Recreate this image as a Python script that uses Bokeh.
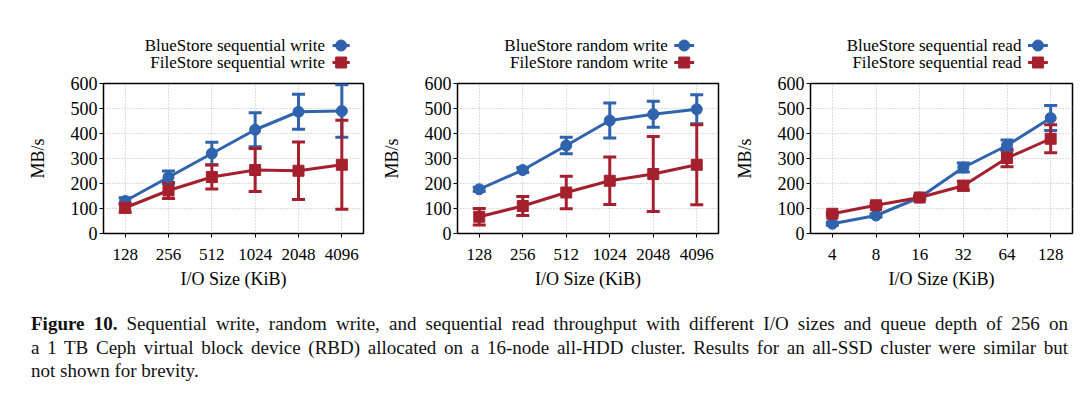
from bokeh.plotting import figure
from bokeh.models import (Whisker, TeeHead, ColumnDataSource, Div, FactorRange,
                          Range1d, FixedTicker)
from bokeh.core.properties import value
from bokeh.layouts import row, column
from bokeh.embed import file_html
from bokeh.resources import INLINE

# ---------------- data ----------------
sizes_write = ["128", "256", "512", "1024", "2048", "4096"]
sizes_read = ["4", "8", "16", "32", "64", "128"]

bs_seq_write = [130, 225, 320, 415, 487, 490]
bs_seq_write_err = [13, 25, 45, 68, 70, 105]
fs_seq_write = [103, 172, 226, 254, 251, 275]
fs_seq_write_err = [18, 32, 48, 86, 115, 178]

bs_rand_write = [177, 254, 352, 452, 477, 497]
bs_rand_write_err = [8, 10, 33, 70, 52, 58]
fs_rand_write = [67, 110, 164, 211, 238, 275]
fs_rand_write_err = [33, 38, 65, 95, 150, 160]

bs_seq_read = [39, 72, 144, 264, 352, 462]
bs_seq_read_err = [6, 6, 6, 18, 22, 50]
fs_seq_read = [79, 113, 144, 191, 302, 379]
fs_seq_read_err = [6, 6, 6, 18, 35, 56]

y_ticks = [0, 100, 200, 300, 400, 500, 600]

BLUE = "#3063ad"
RED = "#a5202e"
FONT = "Liberation Serif"
FRAME_H = 150
LEG_H = 73
TOP_B = 10


def make_legend(width, blue_label, red_label, text_right, g0, g1):
    lf = figure(width=width, height=LEG_H, x_range=Range1d(0, width),
                y_range=Range1d(0, LEG_H), min_border=0,
                x_axis_location=None, y_axis_location=None,
                output_backend="svg", toolbar_location=None)
    lf.outline_line_color = None
    lf.grid.visible = False
    for label, color, marker, yy in ((blue_label, BLUE, "circle", LEG_H - 45),
                                     (red_label, RED, "square", LEG_H - 62)):
        lf.segment(x0=[g0], y0=[yy], x1=[g1], y1=[yy], line_color=color, line_width=3)
        lf.scatter(x=[(g0 + g1) / 2], y=[yy], marker=marker, size=11,
                   fill_color=color, line_color=color)
        lf.text(x=[text_right], y=[yy], text=[label], text_align="right",
                text_baseline="middle", text_font=value(FONT),
                text_font_size="17px", text_color="black")
    return lf


def make_panel(factors, blue, blue_err, red, red_err, lb, fw, rb):
    p = figure(x_range=FactorRange(*factors), y_range=Range1d(0, 600),
               frame_width=fw, frame_height=FRAME_H,
               min_border_left=lb, min_border_right=rb,
               min_border_top=TOP_B, min_border_bottom=64,
               output_backend="svg", toolbar_location=None)
    p.outline_line_color = "black"
    p.outline_line_width = 1.5

    for ax in (p.xaxis[0], p.yaxis[0]):
        ax.axis_line_color = None
        ax.major_tick_line_color = "black"
        ax.major_tick_line_width = 1
        ax.major_tick_in = 0
        ax.major_tick_out = 4
        ax.minor_tick_line_color = None
        ax.major_label_text_font = FONT
        ax.major_label_text_color = "black"
        ax.axis_label_text_font = FONT
        ax.axis_label_text_font_size = "18px"
        ax.axis_label_text_font_style = "normal"
        ax.axis_label_text_color = "black"
    p.xaxis.major_label_text_font_size = "17px"
    p.yaxis.major_label_text_font_size = "18px"
    p.xaxis.axis_label = "I/O Size (KiB)"
    p.yaxis.axis_label = "MB/s"
    p.yaxis.ticker = FixedTicker(ticks=y_ticks)
    p.xaxis.major_label_standoff = 11
    p.xaxis.axis_label_standoff = 6
    p.yaxis.major_label_standoff = 2
    p.yaxis.axis_label_standoff = 20

    for g in (p.xgrid[0], p.ygrid[0]):
        g.grid_line_color = "#bdbdbd"
        g.grid_line_width = 1
        g.grid_line_dash = "1 2"

    for vals, errs, color, marker in ((blue, blue_err, BLUE, "circle"),
                                      (red, red_err, RED, "square")):
        src = ColumnDataSource(dict(
            x=factors, y=vals,
            lo=[v - e for v, e in zip(vals, errs)],
            hi=[v + e for v, e in zip(vals, errs)]))
        w = Whisker(source=src, base="x", lower="lo", upper="hi",
                    line_color=color, line_width=3,
                    upper_head=TeeHead(size=13, line_color=color, line_width=3),
                    lower_head=TeeHead(size=13, line_color=color, line_width=3))
        p.add_layout(w)
        p.line("x", "y", source=src, line_color=color, line_width=3)
        p.scatter("x", "y", source=src, marker=marker, size=11,
                  fill_color=color, line_color=color)
    return p


# panel geometry (page pixels): fig1 0-378, fig2 378-725, fig3 725-1072
p1 = make_panel(sizes_write, bs_seq_write, bs_seq_write_err, fs_seq_write, fs_seq_write_err,
                103, 260, 15)
p2 = make_panel(sizes_write, bs_rand_write, bs_rand_write_err, fs_rand_write, fs_rand_write_err,
                73, 261, 13)
p3 = make_panel(sizes_read, bs_seq_read, bs_seq_read_err, fs_seq_read, fs_seq_read_err,
                72, 262, 13)

l1 = make_legend(378, "BlueStore sequential write", "FileStore sequential write",
                 322, 333, 358)
l2 = make_legend(347, "BlueStore random write", "FileStore random write",
                 664 - 378, 673 - 378, 700 - 378)
l3 = make_legend(347, "BlueStore sequential read", "FileStore sequential read",
                 1012 - 725, 1021 - 725, 1048 - 725)

line1 = ("<b>Figure 10.</b> Sequential write, random write, and sequential read throughput "
         "with different I/O sizes and queue depth of 256 on")
line2 = ("a 1 TB Ceph virtual block device (RBD) allocated on a 16-node all-HDD cluster. "
         "Results for an all-SSD cluster were similar but")
line3 = "not shown for brevity."
jstyle = "text-align:justify;text-align-last:justify;white-space:nowrap;"
caption = Div(text=(
    f"<div style=\"font-family:'{FONT}';font-size:19px;line-height:23.5px;color:#111;"
    f"box-sizing:content-box;padding:15px 0 0 31px;width:1037px\">"
    f"<div style='{jstyle}'>{line1}</div>"
    f"<div style='{jstyle}'>{line2}</div>"
    f"<div style='white-space:nowrap'>{line3}</div></div>"),
    width=1072, height=95, margin=(0, 0, 0, 0))

layout = column(row(column(l1, p1), column(l2, p2), column(l3, p3)), caption)
open("out.html", "w").write(file_html(layout, INLINE))
